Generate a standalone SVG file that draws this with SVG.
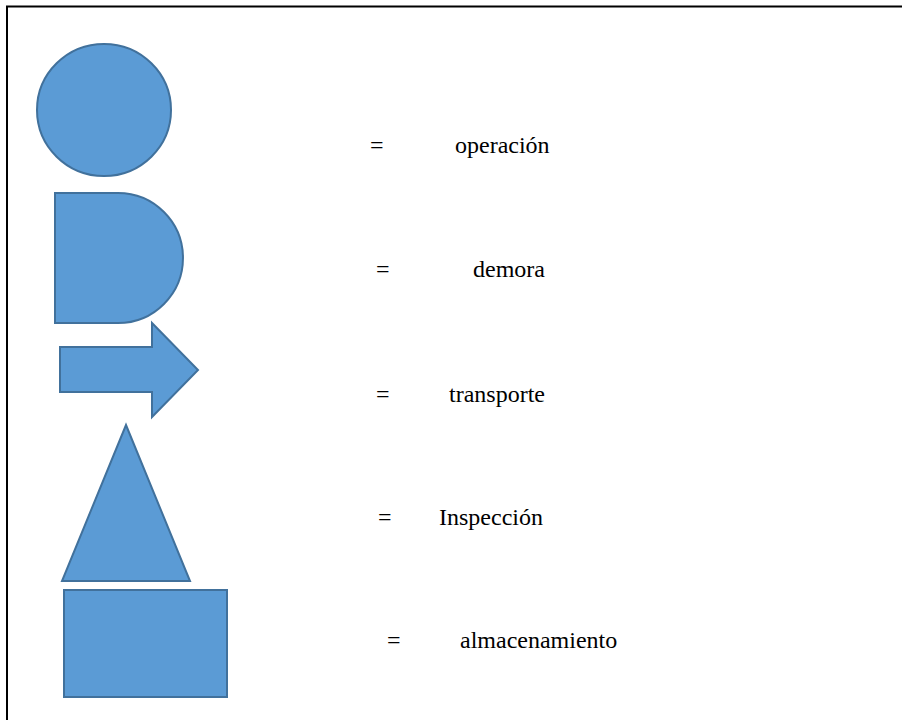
<svg xmlns="http://www.w3.org/2000/svg" width="902" height="720" viewBox="0 0 902 720">
<style>
.shape{fill:#5B9BD5;stroke:#41719C;stroke-width:2}
text{font-family:'Liberation Serif','Times New Roman','DejaVu Serif',serif;font-size:24px;fill:#000}
</style>
<rect x="0" y="0" width="902" height="720" fill="#fff"/>
<path d="M7,720 V6.5 H902" fill="none" stroke="#000" stroke-width="2"/>
<g id="operacion">
<ellipse class="shape" cx="104" cy="110" rx="67" ry="66"/>
<text x="370" y="153" font-family="Liberation Serif, serif">=</text>
<text x="455" y="153" font-family="Liberation Serif, serif">operación</text>
</g>
<g id="demora">
<path class="shape" d="M55,193 H118 A65,65 0 0 1 118,323 H55 Z"/>
<text x="376" y="277" font-family="Liberation Serif, serif">=</text>
<text x="473" y="277" font-family="Liberation Serif, serif">demora</text>
</g>
<g id="transporte">
<path class="shape" d="M60,347 H152 V323 L198,370 L152,417 V392 H60 Z"/>
<text x="376" y="402" font-family="Liberation Serif, serif">=</text>
<text x="449" y="402" font-family="Liberation Serif, serif">transporte</text>
</g>
<g id="inspeccion">
<path class="shape" d="M126,425 L190,581 H62 Z"/>
<text x="378" y="525" font-family="Liberation Serif, serif">=</text>
<text x="439" y="525" font-family="Liberation Serif, serif">Inspección</text>
</g>
<g id="almacenamiento">
<rect class="shape" x="64" y="590" width="163" height="107"/>
<text x="387" y="648" font-family="Liberation Serif, serif">=</text>
<text x="460" y="648" font-family="Liberation Serif, serif">almacenamiento</text>
</g>
<g id="connectors"/>
</svg>
